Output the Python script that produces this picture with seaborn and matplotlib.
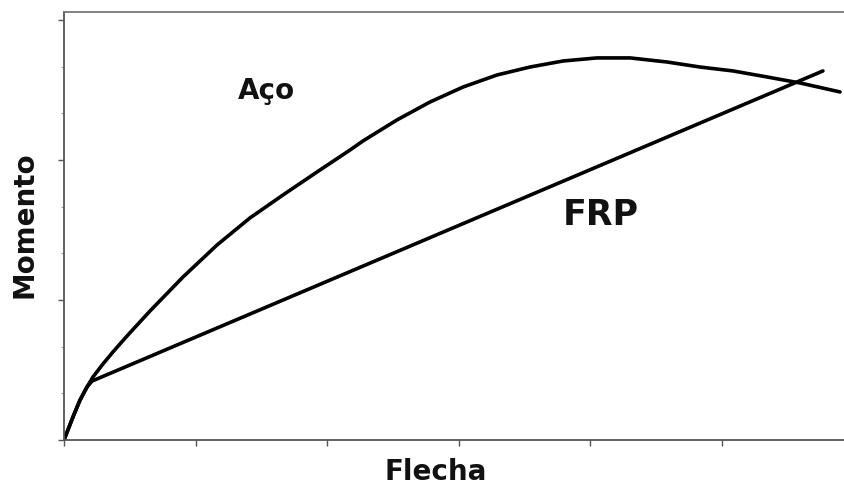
import matplotlib
matplotlib.use("Agg")
import matplotlib.pyplot as plt
import seaborn as sns
import pandas as pd
from matplotlib.ticker import MultipleLocator

# Data (Flecha vs Momento)
aco_flecha = [0, 0.068, 0.122, 0.175, 0.220, 0.296, 0.372, 0.479, 0.653, 0.904, 1.163,
              1.413, 1.664, 1.922, 2.173, 2.272, 2.530, 2.781, 3.032, 3.290, 3.541,
              3.792, 4.050, 4.301, 4.582, 4.833, 5.084, 5.342, 5.593, 5.897]
aco_momento = [0, 0.164, 0.286, 0.379, 0.450, 0.543, 0.629, 0.743, 0.921, 1.164, 1.393,
               1.586, 1.750, 1.914, 2.071, 2.136, 2.286, 2.414, 2.521, 2.607, 2.664,
               2.707, 2.729, 2.729, 2.700, 2.664, 2.636, 2.593, 2.550, 2.486]
frp_flecha = [0, 0.068, 0.122, 0.175, 0.213, 5.767]
frp_momento = [0, 0.164, 0.286, 0.379, 0.421, 2.636]

labels = ["Aço", "FRP"]
x_label = "Flecha"
y_label = "Momento"

df = pd.concat([
    pd.DataFrame({"Flecha": aco_flecha, "Momento": aco_momento, "serie": labels[0]}),
    pd.DataFrame({"Flecha": frp_flecha, "Momento": frp_momento, "serie": labels[1]}),
], ignore_index=True)

sns.set_style("white")
plt.rcParams['font.family'] = ['DejaVu Sans']

fig = plt.figure(figsize=(8.45, 4.88), dpi=100)
fig.patch.set_facecolor("white")
ax = fig.add_axes([64/845, 48/488, (880 - 64)/845, 428/488])
ax.patch.set_visible(False)

sns.lineplot(data=df, x="Flecha", y="Momento", units="serie", estimator=None,
             sort=False, color="black", linewidth=2.6, ax=ax, legend=False)
for ln in ax.lines:
    ln.set_solid_joinstyle("round")
    ln.set_solid_capstyle("round")

ax.set_xlim(0, (880 - 64)/131.6)
ax.set_ylim(0, 3.057)

ax.xaxis.set_major_locator(MultipleLocator(1))
ax.yaxis.set_major_locator(MultipleLocator(1))
ax.yaxis.set_minor_locator(MultipleLocator(1/3))
ax.tick_params(axis="both", which="major", direction="out", length=4, width=1,
               color="#555555", labelleft=False, labelbottom=False, left=True, bottom=True,
               right=False, top=False)
ax.tick_params(axis="y", which="minor", direction="out", length=2, width=0.8,
               color="#999999", left=True, right=False)

for side in ["left", "bottom"]:
    ax.spines[side].set_color("#555555")
    ax.spines[side].set_linewidth(1.3)
ax.spines["top"].set_color("#777777")
ax.spines["top"].set_linewidth(1.3)
ax.spines["top"].set_linestyle((0, (3, 1)))
ax.spines["right"].set_visible(False)

ax.set_xlabel("")
ax.set_ylabel("")

ax.text(1.535, 2.436, labels[0], fontsize=20, fontweight="bold", ha="center", va="baseline", color="#111111")
ax.text(4.081, 1.536, labels[1], fontsize=25, fontweight="bold", ha="center", va="baseline", color="#111111")

fig.text(436/845, 1 - 472/488, x_label, fontsize=20, fontweight="bold", ha="center", va="center", color="#111111")
fig.text(25/845, 1 - 225/488, y_label, fontsize=20, fontweight="bold", ha="center", va="center",
         rotation=90, color="#111111")

fig.savefig("out.png", dpi=100, facecolor="white")
